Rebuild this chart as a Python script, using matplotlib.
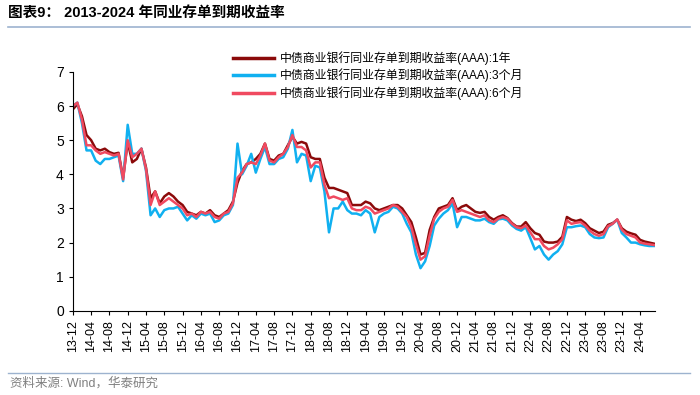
import numpy as np
import pandas as pd
import matplotlib
matplotlib.use("Agg")
import matplotlib.pyplot as plt
from matplotlib.lines import Line2D

plt.rcParams["font.family"] = ["Liberation Sans", "Noto Sans CJK SC", "DejaVu Sans"]

# monthly points, 2013-12 .. 2024-07
months = pd.date_range("2013-12-01", periods=128, freq="MS")

yield_1y = [
    5.9, 6.05, 5.7, 5.15, 5.0, 4.75, 4.7, 4.75, 4.65, 4.6, 4.63, 3.9,
    4.95, 4.35, 4.45, 4.75, 4.2, 3.3, 3.5, 3.15, 3.35, 3.45, 3.35, 3.2,
    3.1, 2.9, 2.85, 2.8, 2.9, 2.85, 2.95, 2.8, 2.75, 2.85, 2.95, 3.2,
    3.75, 4.1, 4.3, 4.35, 4.45, 4.6, 4.9, 4.45, 4.4, 4.55, 4.6, 4.85,
    5.1, 4.9, 4.95, 4.9, 4.5, 4.45, 4.45, 3.9, 3.6, 3.6, 3.55, 3.5,
    3.45, 3.1, 3.1, 3.1, 3.2, 3.15, 3.0, 2.95, 3.0, 3.05, 3.1, 3.1,
    3.0, 2.8, 2.6, 2.15, 1.65, 1.7, 2.37, 2.75, 3.0, 3.05, 3.1, 3.3,
    2.95, 3.05, 3.1, 3.0, 2.9, 2.87, 2.9, 2.75, 2.67, 2.75, 2.8, 2.72,
    2.57, 2.47, 2.47, 2.6, 2.42, 2.28, 2.23, 2.03, 2.0, 2.0, 2.03, 2.17,
    2.75, 2.67, 2.63, 2.67, 2.57, 2.42, 2.35, 2.28, 2.32, 2.52, 2.57, 2.67,
    2.42, 2.32, 2.27, 2.23, 2.08, 2.03, 2.0, 1.97,
]
yield_3m = [
    6.0, 6.1, 5.5, 4.7, 4.7, 4.4, 4.3, 4.45, 4.45, 4.5, 4.55, 3.8,
    5.45, 4.6, 4.6, 4.75, 4.1, 2.8, 3.0, 2.75, 2.95, 3.0, 3.0, 3.05,
    2.85, 2.65, 2.8, 2.7, 2.85, 2.8, 2.85, 2.6, 2.65, 2.8, 2.85, 3.1,
    4.9, 4.0, 4.25, 4.6, 4.05, 4.45, 4.8, 4.3, 4.3, 4.45, 4.5, 4.75,
    5.3, 4.35, 4.6, 4.55, 3.8, 4.25, 4.2, 3.5, 2.3, 3.0, 3.0, 3.2,
    2.95, 2.85, 2.85, 2.8, 2.95, 2.85, 2.3, 2.75, 2.85, 2.9, 3.05, 3.0,
    2.85, 2.55, 2.3, 1.65, 1.25, 1.45, 1.9, 2.5, 2.7, 2.85, 2.95, 3.15,
    2.45, 2.75, 2.75, 2.7, 2.65, 2.65, 2.7, 2.6, 2.55, 2.68, 2.7, 2.65,
    2.5, 2.4, 2.35, 2.45, 2.13, 1.8, 1.9, 1.65, 1.5, 1.65, 1.75, 1.95,
    2.45, 2.45, 2.48, 2.5, 2.45, 2.25, 2.15, 2.13, 2.15, 2.45, 2.55, 2.67,
    2.28, 2.15, 2.0, 2.0, 1.95, 1.92, 1.9, 1.9,
]
yield_6m = [
    6.0, 6.1, 5.6, 4.85, 4.85, 4.7, 4.6, 4.65, 4.6, 4.55, 4.6, 3.85,
    5.0, 4.5, 4.6, 4.75, 4.15, 3.1, 3.5, 3.1, 3.2, 3.3, 3.2, 3.1,
    3.0, 2.8, 2.85, 2.75, 2.9, 2.85, 2.9, 2.75, 2.7, 2.85, 2.9, 3.15,
    3.9, 4.05, 4.3, 4.35, 4.3, 4.55, 4.9, 4.4, 4.35, 4.5, 4.6, 4.8,
    5.15, 4.8, 4.8, 4.7, 4.2, 4.35, 4.35, 3.7, 3.3, 3.35, 3.3, 3.25,
    3.3, 3.0, 2.95, 2.95, 3.05, 3.0, 2.85, 2.9, 2.95, 3.0, 3.1, 3.05,
    2.9, 2.75, 2.45, 1.95, 1.5, 1.6, 2.2, 2.7, 2.9, 3.0, 3.05, 3.25,
    2.9, 2.95, 2.9, 2.85, 2.8, 2.75, 2.8, 2.65, 2.6, 2.7, 2.75, 2.7,
    2.55, 2.45, 2.42, 2.5, 2.3, 2.1, 2.1, 1.9, 1.8, 1.85, 1.95, 2.1,
    2.65, 2.55, 2.58, 2.6, 2.5, 2.35, 2.25, 2.2, 2.25, 2.48, 2.55, 2.68,
    2.38, 2.25, 2.2, 2.15, 2.0, 1.97, 1.95, 1.93,
]

labels = [
    "中债商业银行同业存单到期收益率(AAA):1年",
    "中债商业银行同业存单到期收益率(AAA):3个月",
    "中债商业银行同业存单到期收益率(AAA):6个月",
]
colors = ["#8B0A0A", "#10B0F0", "#F04A60"]

fig = plt.figure(figsize=(7, 3.95), dpi=100)
ax = fig.add_axes([0.104, 0.213, 0.832, 0.605])

x = np.arange(len(months))
for vals, c in zip([yield_1y, yield_3m, yield_6m], colors):
    ax.plot(x, vals, color=c, lw=1.8)

ax.set_xlim(0, 127.3)
ax.set_ylim(0, 7)
ax.set_yticks(range(8))
tick_pos = x[::4]
ax.set_xticks(tick_pos)
ax.set_xticklabels([months[i].strftime("%y-%m") for i in tick_pos], rotation=90)
ax.tick_params(axis="x", labelsize=9, length=3, width=0.8)
ax.tick_params(axis="y", labelsize=10, length=3, width=0.8)
for s in ["top", "right"]:
    ax.spines[s].set_visible(False)

handles = [Line2D([], [], color=c, lw=2.5) for c in colors]
fig.legend(handles, labels, loc="upper left", bbox_to_anchor=(0.326, 0.882),
           frameon=False, fontsize=8.6, handlelength=3.4, handletextpad=0.5,
           labelspacing=0.3, borderaxespad=0)

# title + separator lines
fig.text(0.012, 0.968, "图表9： 2013-2024 年同业存单到期收益率", fontsize=10.5,
         fontweight="bold", va="center", ha="left")
fig.add_artist(Line2D([0.012, 0.985], [0.932, 0.932], color="#9DB3CF", lw=1.2))
fig.add_artist(Line2D([0.012, 0.985], [0.056, 0.056], color="#9DB3CF", lw=1.0))
fig.text(0.014, 0.03, "资料来源: Wind，华泰研究", fontsize=9, color="#808080",
         va="center", ha="left")

fig.savefig("out.png", dpi=100)
